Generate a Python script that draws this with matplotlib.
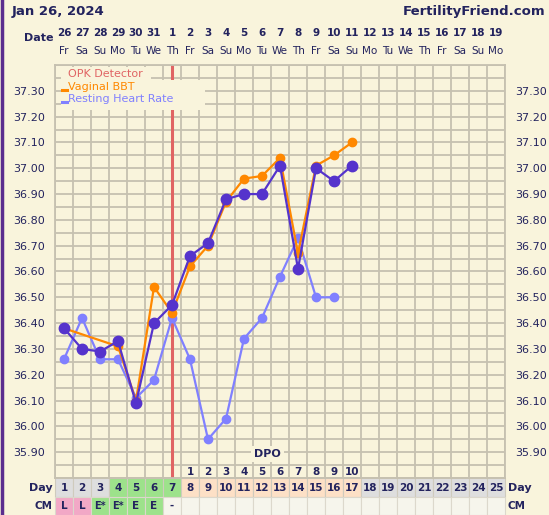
import matplotlib.pyplot as plt
import numpy as np
from matplotlib.patches import Rectangle

# chart data
days = np.arange(1, 26)
dates = ['26', '27', '28', '29', '30', '31', '1', '2', '3', '4', '5', '6', '7', '8',
         '9', '10', '11', '12', '13', '14', '15', '16', '17', '18', '19']
weekdays = ['Fr', 'Sa', 'Su', 'Mo', 'Tu', 'We', 'Th'] * 4
weekdays = weekdays[:25]

temp_days = list(range(1, 18))
temps = [36.38, 36.30, 36.29, 36.33, 36.09, 36.40, 36.47, 36.66, 36.71,
         36.88, 36.90, 36.90, 37.01, 36.61, 37.00, 36.95, 37.01]

vag_days = [1, 4, 5, 6, 7, 8, 9, 10, 11, 12, 13, 14, 15, 16, 17]
vag_bbt = [36.38, 36.31, 36.10, 36.54, 36.44, 36.62, 36.70, 36.87, 36.96,
           36.97, 37.04, 36.67, 37.01, 37.05, 37.10]

rhr_days = list(range(1, 17))
rhr = [36.26, 36.42, 36.26, 36.26, 36.11, 36.18, 36.42, 36.26, 35.95,
       36.03, 36.34, 36.42, 36.58, 36.73, 36.50, 36.50]

opk_day = 7
dpo_days = list(range(8, 18))
dpo_labels = [str(i) for i in range(1, 11)]
cm_labels = ['L', 'L', 'E*', 'E*', 'E', 'E', '-']

BG = '#f9f4dc'
GRID = '#c6c1b0'
NAVY = '#23235e'

fig = plt.figure(figsize=(5.49, 5.15), dpi=100, facecolor=BG)
W, H = 549, 515
ax = fig.add_axes([55 / W, 1 - 478 / H, 450 / W, 413 / H], facecolor=BG)
ax.set_xlim(0.5, 25.5)
ax.set_ylim(35.80, 37.40)

# grid
ax.set_xticks(np.arange(0.5, 25.6, 1), minor=True)
ax.set_xticks([])
ax.set_yticks(np.arange(35.80, 37.401, 0.05), minor=True)
yt = np.arange(35.90, 37.301, 0.10)
ax.set_yticks(yt)
ax.set_yticklabels([f'{v:.2f}' for v in yt])
ax.grid(which='both', color=GRID, linewidth=1.3, zorder=0)
ax.tick_params(which='both', length=0)
ax.tick_params(axis='y', labelsize=8, labelcolor=NAVY, pad=7,
               labelleft=True, labelright=True)
for s in ax.spines.values():
    s.set_color(GRID)
    s.set_linewidth(1.3)
ax.set_axisbelow(True)

# OPK line
ax.axvline(opk_day, color='#e06464', linewidth=2.2, zorder=2)

# legend boxes
tr = ax.get_xaxis_transform()
ypx = lambda y: (478 - y) / 413
ax.add_patch(Rectangle((0.83, ypx(80)), 5.0, ypx(67) - ypx(80), transform=tr,
                       facecolor=BG, edgecolor='none', zorder=3))
ax.add_patch(Rectangle((0.83, ypx(110)), 8.0, ypx(80) - ypx(110), transform=tr,
                       facecolor=BG, edgecolor='none', zorder=3))
ax.text(1.2, ypx(74), 'OPK Detector', transform=tr, color='#e06464',
        fontsize=8, va='center', zorder=4)
ax.text(1.2, ypx(87), 'Vaginal BBT', transform=tr, color='#ff8800',
        fontsize=8, va='center', zorder=4)
ax.text(1.2, ypx(99), 'Resting Heart Rate', transform=tr, color='#8080ff',
        fontsize=8, va='center', zorder=4)
ax.plot([0.88, 1.15], [ypx(90)] * 2, transform=tr, color='#ff8800', lw=2.2, zorder=4)
ax.plot([0.88, 1.15], [ypx(102)] * 2, transform=tr, color='#8080ff', lw=2.2, zorder=4)

# series
ax.plot(rhr_days, rhr, color='#8080ff', lw=1.6, marker='o', ms=6, zorder=5)
ax.plot(vag_days, vag_bbt, color='#ff8800', lw=1.6, marker='o', ms=6, zorder=6)
ax.plot(temp_days, temps, color='#5533cc', lw=1.6, marker='o', ms=7.5, zorder=7)

# DPO
ax.text(12.3, 35.893, 'DPO', ha='center', va='center', fontsize=8,
        fontweight='bold', color=NAVY, zorder=4,
        bbox=dict(facecolor=BG, edgecolor='none', pad=2))
for d, lab in zip(dpo_days, dpo_labels):
    ax.text(d, 35.823, lab, ha='center', va='center', fontsize=7.5,
            fontweight='bold', color=NAVY, zorder=4)

# header
fig.text(12 / W, 1 - 12 / H, 'Jan 26, 2024', fontsize=9.5, fontweight='bold',
         color=NAVY, va='center', ha='left')
fig.text(545 / W, 1 - 12 / H, 'FertilityFriend.com', fontsize=9.5,
         fontweight='bold', color=NAVY, va='center', ha='right')
ax.text(0.42, ypx(38), 'Date', transform=tr, fontsize=8, fontweight='bold',
        color=NAVY, ha='right', va='center', clip_on=False)
for d, dt, wd in zip(days, dates, weekdays):
    ax.text(d, ypx(33), dt, transform=tr, fontsize=7.5, fontweight='bold',
            color=NAVY, ha='center', va='center', clip_on=False)
    ax.text(d, ypx(51), wd, transform=tr, fontsize=7.5, color=NAVY,
            ha='center', va='center', clip_on=False)

# day / CM rows
for d in days:
    if d <= 3 or d >= 18:
        c = '#dedede'
    elif d <= 7:
        c = '#9de28b'
    else:
        c = '#fde0c6'
    ax.add_patch(Rectangle((d - 0.5, ypx(497)), 1, ypx(478) - ypx(497),
                           transform=tr, facecolor=c, edgecolor='#cfcbbd',
                           lw=0.8, clip_on=False))
    ax.text(d, ypx(488), str(d), transform=tr, fontsize=7.5, fontweight='bold',
            color=NAVY, ha='center', va='center', clip_on=False)
    if d <= len(cm_labels):
        lab = cm_labels[d - 1]
        cc = '#f2a8c6' if lab == 'L' else ('#9de28b' if lab != '-' else '#f6f5ec')
    else:
        lab, cc = '', '#f6f5ec'
    ax.add_patch(Rectangle((d - 0.5, ypx(515)), 1, ypx(497) - ypx(515),
                           transform=tr, facecolor=cc, edgecolor='#dcd8cc',
                           lw=0.8, clip_on=False))
    if lab:
        ax.text(d, ypx(506), lab, transform=tr, fontsize=7 if '*' in lab else 7.5,
                fontweight='bold', color=NAVY, ha='center', va='center',
                clip_on=False)

for x, ha in [(0.38, 'right'), (25.65, 'left')]:
    ax.text(x, ypx(488), 'Day', transform=tr, fontsize=8, fontweight='bold',
            color=NAVY, ha=ha, va='center', clip_on=False)
    ax.text(x, ypx(506), 'CM', transform=tr, fontsize=7.5, fontweight='bold',
            color=NAVY, ha=ha, va='center', clip_on=False)

# purple left border
fig.add_artist(plt.Line2D([1.5 / W, 1.5 / W], [0, 1], color='#5b2d8e', lw=2.5,
                          transform=fig.transFigure))

fig.savefig('out.png', dpi=100, facecolor=BG)
